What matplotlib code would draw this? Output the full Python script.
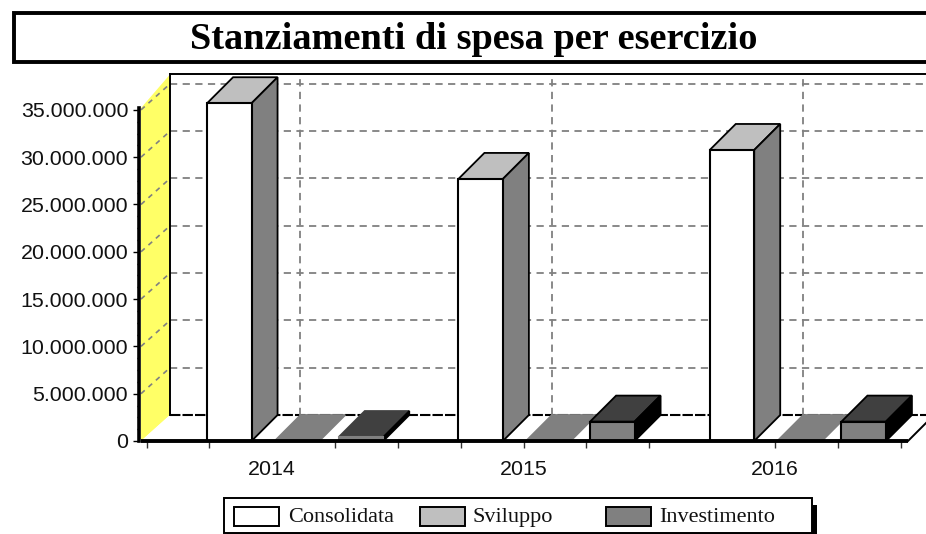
import matplotlib
matplotlib.use('Agg')
import matplotlib.pyplot as plt
from matplotlib.patches import Polygon, Rectangle
from matplotlib.ticker import FuncFormatter

years = ['2014', '2015', '2016']
series_names = ['Consolidata', 'Sviluppo', 'Investimento']
consolidata = [35700000, 27700000, 30760000]
sviluppo = [0, 0, 0]
investimento = [420000, 2050000, 2050000]
y_ticks = [0, 5000000, 10000000, 15000000, 20000000, 25000000, 30000000, 35000000]

W, H = 926, 534
PX_W = 754.0
PX_H = 340.6
YMAX = 36000000
fig = plt.figure(figsize=(W / 100, H / 100), dpi=100, facecolor='white')
ax = fig.add_axes([146.5 / W, 1 - 441 / H, PX_W / W, PX_H / H])
ax.set_xlim(0, 3)
ax.set_ylim(0, YMAX)
ax.patch.set_visible(False)

sans = 'Liberation Sans'
serif = 'Liberation Serif'


def dx(px):
    return px / PX_W * 3


def dy(px):
    return px / PX_H * YMAX


def poly(pts, fc, ec='black', lw=1.3, z=2):
    ax.add_patch(Polygon(pts, closed=True, facecolor=fc, edgecolor=ec, linewidth=lw,
                         clip_on=False, zorder=z))


# wall and floor
x_left = dx(-5.5)
x_right = dx(761.5)
depth_w = dx(29)
depth = dy(26)
poly([(x_left, 0), (x_left + depth_w, depth), (x_left + depth_w, YMAX + dy(26)),
      (x_left, dy(333))], '#ffff66', ec='none', z=1)
poly([(x_left, 0), (x_left + depth_w, depth), (x_right + dx(26), depth), (x_right, 0)],
     'white', ec='none', z=1)

# gridlines on the back and on the wall
for v in y_ticks:
    if v == 0:
        ax.plot([x_left + depth_w, x_right + dx(26)], [depth, depth], color='black', lw=1.5,
                ls=(0, (5, 1)), clip_on=False, zorder=1.5)
    else:
        ax.plot([x_left + depth_w, x_right + dx(26)], [v + depth, v + depth], color='#808080',
                lw=1.3, ls=(0, (4, 3)), clip_on=False, zorder=1.5)
        ax.plot([x_left, x_left + depth_w], [v, v + depth], color='#808080', lw=1.2,
                ls=(0, (3, 3)), clip_on=False, zorder=1.5)
for g in [0.5, 1.5, 2.5]:
    ax.plot([g + dx(28)] * 2, [depth, YMAX + depth], color='#808080', lw=1.3,
            ls=(0, (4, 3)), clip_on=False, zorder=1.5)
ax.plot([x_left + depth_w] * 2, [depth, YMAX + depth], color='black', lw=1.4, clip_on=False, zorder=1.6)
ax.plot([x_left + depth_w, x_right + dx(30)], [YMAX + depth] * 2, color='black', lw=1.4,
        clip_on=False, zorder=1.6)
ax.plot([x_right, x_right + dx(26)], [0, depth], color='black', lw=1.4, clip_on=False, zorder=1.6)

# bars: front via ax.bar, top and side faces as polygons
offsets = [0.241, 0.51, 0.765]
width = 0.177
front = ['white', '#bfbfbf', '#808080']
top = ['#bfbfbf', '#808080', '#404040']
side = ['#808080', '#404040', 'black']
values = [consolidata, sviluppo, investimento]
bar_dx, bar_dy = dx(26), dy(26)
for s in range(3):
    for g in range(3):
        x0 = g + offsets[s]
        x1 = x0 + width
        v = values[s][g]
        z = 3 + s * 0.1
        flat = v < 1000000
        poly([(x0, v), (x0 + bar_dx, v + bar_dy), (x1 + bar_dx, v + bar_dy), (x1, v)], top[s],
             ec=top[s] if flat else 'black', z=z)
        if v > 0:
            poly([(x1, 0), (x1 + bar_dx, bar_dy), (x1 + bar_dx, v + bar_dy), (x1, v)], side[s], z=z)
        ax.bar(x0, v, width=width, align='edge', color=front[s],
               edgecolor=front[s] if flat else 'black', linewidth=1.5,
               clip_on=False, zorder=z + 0.05)

# front floor line
ax.plot([x_left, x_right], [0, 0], color='black', lw=2.8, clip_on=False, zorder=5,
        solid_capstyle='butt')

# axes
for name in ['top', 'right', 'bottom']:
    ax.spines[name].set_visible(False)
ax.spines['left'].set_position(('outward', 5.2))
ax.spines['left'].set_linewidth(2.6)
ax.spines['left'].set_bounds(0, dy(333))
ax.set_yticks(y_ticks)
ax.yaxis.set_major_formatter(FuncFormatter(lambda v, p: f'{int(v):,}'.replace(',', '.')))
ax.set_yticks([v + 1250000 * k for v in y_ticks[:-1] for k in (1, 2, 3)], minor=True)
ax.tick_params(axis='y', which='major', length=4, width=1, pad=4, labelsize=15.4, labelfontfamily=sans,
               labelcolor='#111111')
ax.tick_params(axis='y', which='minor', length=1.5, width=1)
ax.set_xticks([0.5, 1.5, 2.5])
ax.set_xticklabels(years)
ax.set_xticks([0, 0.25, 0.75, 1, 1.25, 1.75, 2, 2.75, 3], minor=True)
ax.tick_params(axis='x', which='both', length=5, width=1, color='#333333')
ax.tick_params(axis='x', which='major', pad=9, labelsize=15.4, labelfontfamily=sans, labelcolor='#111111')
ax.xaxis.get_major_ticks()[0].tick1line.set_visible(False)

# title box
fig.add_artist(Rectangle((13.5 / W, 1 - 62 / H), 925 / W, 49 / H, transform=fig.transFigure,
                         facecolor='white', edgecolor='black', linewidth=2.8))
fig.text(473.5 / W, 1 - 39.5 / H, 'Stanziamenti di spesa per esercizio', family=serif, weight='bold',
         fontsize=27.6, ha='center', va='center', color='black')

# legend
fig.add_artist(Rectangle((227 / W, 1 - 534 / H), 590 / W, 29 / H, transform=fig.transFigure,
                         facecolor='black', edgecolor='none'))
fig.add_artist(Rectangle((224 / W, 1 - 533 / H), 588 / W, 35 / H, transform=fig.transFigure,
                         facecolor='white', edgecolor='black', linewidth=1.4))
swatch_x = [233.5, 420, 606]
text_x = [288, 473, 659]
for name, c, sx, tx in zip(series_names, front, swatch_x, text_x):
    fig.add_artist(Rectangle((sx / W, 1 - 526 / H), 45 / W, 19 / H, transform=fig.transFigure,
                             facecolor=c, edgecolor='black', linewidth=1.4))
    fig.text(tx / W, 1 - 517.5 / H, name, family=serif, fontsize=16, ha='left', va='center',
             color='#111111')

fig.savefig('out.png', dpi=100)
